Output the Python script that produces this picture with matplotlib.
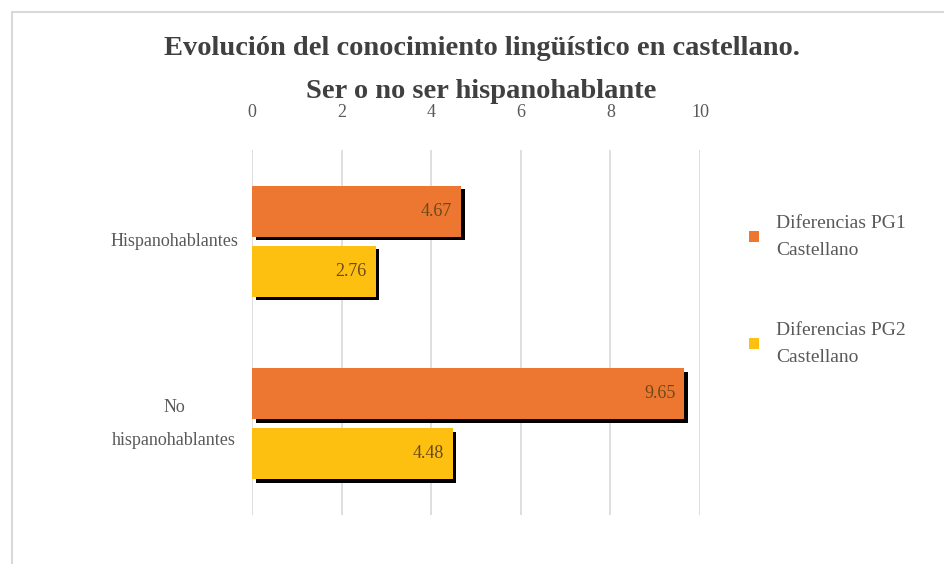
import matplotlib.pyplot as plt
import numpy as np
from matplotlib import patheffects as pe
from matplotlib.patches import Rectangle

categories = ['Hispanohablantes', 'No\nhispanohablantes']
pg1 = [4.67, 9.65]
pg2 = [2.76, 4.48]
series_labels = ['Diferencias PG1\nCastellano', 'Diferencias PG2\nCastellano']
xticks = [0, 2, 4, 6, 8, 10]

plt.rcParams['font.family'] = ['Liberation Serif', 'DejaVu Serif']

fig = plt.figure(figsize=(9.44, 5.64), dpi=100)
ax = fig.add_axes([0.267, 0.087, 0.4745, 0.647])

y = np.arange(len(categories))
h = 0.28
off = 0.165
shadow = [pe.SimplePatchShadow(offset=(2.5, -2.5), shadow_rgbFace='black', alpha=1.0), pe.Normal()]

b1 = ax.barh(y - off, pg1, height=h, color='#ED7731', label=series_labels[0], zorder=3)
b2 = ax.barh(y + off, pg2, height=h, color='#FDC010', label=series_labels[1], zorder=3)
for bars in (b1, b2):
    for p in bars:
        p.set_path_effects(shadow)

for yy, v in zip(y - off, pg1):
    ax.text(v - 0.2, yy, f'{v:.2f}', ha='right', va='center', fontsize=13,
            color='#6b4a1a', zorder=4)
for yy, v in zip(y + off, pg2):
    ax.text(v - 0.2, yy, f'{v:.2f}', ha='right', va='center', fontsize=13,
            color='#6b4a1a', zorder=4)

ax.set_xlim(0, 10)
ax.set_ylim(1.5, -0.5)
ax.set_xticks(xticks)
ax.set_yticks(y)
ax.set_yticklabels(categories, fontsize=13, color='#595959', ha='center',
                   linespacing=2.2, va='center')
ax.tick_params(axis='y', length=0, pad=56)
ax.xaxis.tick_top()
ax.tick_params(axis='x', length=0, labelsize=13, labelcolor='#595959', pad=21)
ax.grid(axis='x', color='#d9d9d9', linewidth=1.2, zorder=0)
for s in ax.spines.values():
    s.set_visible(False)

fig.text(0.51, 0.914, 'Evolución del conocimiento lingüístico en castellano.',
         ha='center', va='center', fontsize=20.5, fontweight='bold', color='#404040')
fig.text(0.51, 0.837, 'Ser o no ser hispanohablante',
         ha='center', va='center', fontsize=20.5, fontweight='bold', color='#404040')

leg = ax.legend(loc='upper left', bbox_to_anchor=(1.07, 0.87), frameon=False,
                fontsize=14, handlelength=0.5, handleheight=0.5,
                handletextpad=0.9, labelspacing=3.2)
for t in leg.get_texts():
    t.set_color('#595959')
    t.set_linespacing(1.8)
for hnd in leg.legend_handles:
    hnd.set_path_effects([pe.Normal()])

fig.patches.append(Rectangle((0.013, -0.1), 1.2, 1.078, transform=fig.transFigure,
                             fill=False, edgecolor='#d9d9d9', linewidth=1.5))

fig.savefig('out.png', dpi=100)
